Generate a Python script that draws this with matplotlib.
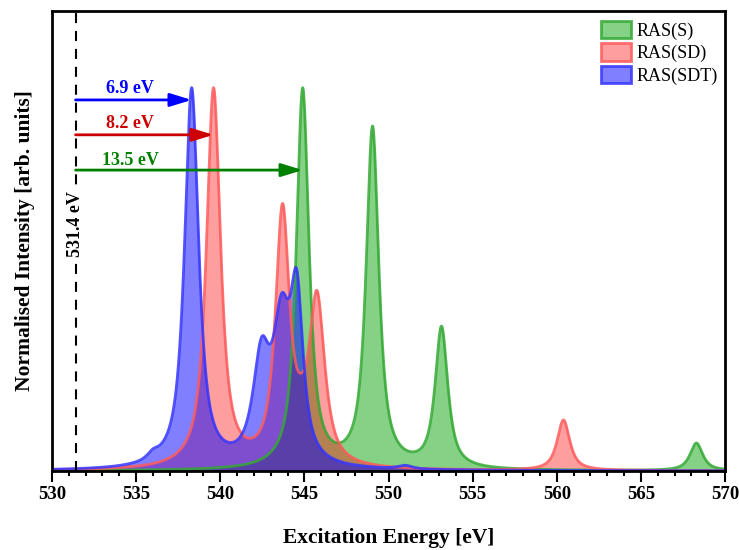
import numpy as np
import matplotlib
matplotlib.use("Agg")
import matplotlib.pyplot as plt
from matplotlib.patches import Patch
from matplotlib.ticker import MultipleLocator

plt.rcParams['font.family'] = ['Liberation Serif', 'DejaVu Serif']

# band positions (eV), normalised curve heights there and FWHM of each band
ras_s_energy = [544.9, 549.05, 553.15, 568.3]
ras_s_height = [1.0, 0.90, 0.378, 0.073]
ras_s_fwhm = [0.9, 0.9, 0.9, 0.9]

ras_sd_energy = [539.6, 543.7, 544.8, 545.75, 560.4]
ras_sd_height = [1.0, 0.698, 0.255, 0.471, 0.133]
ras_sd_fwhm = [1.0, 1.0, 1.0, 1.1, 0.9]

ras_sdt_energy = [536.0, 538.3, 542.45, 543.65, 544.55, 551.0]
ras_sdt_height = [0.058, 1.0, 0.349, 0.464, 0.526, 0.015]
ras_sdt_fwhm = [0.8, 1.0, 1.2, 1.2, 0.9, 1.0]

edge_energy = 531.4
shift_labels = ['6.9 eV', '8.2 eV', '13.5 eV']
shift_targets = [538.3, 539.6, 544.9]

ETA = 0.85  # Lorentzian fraction of the pseudo-Voigt line shape


def pvoigt(grid, e0, fwhm):
    g = fwhm / 2
    s = fwhm / 2.3548
    lor = g ** 2 / ((grid - e0) ** 2 + g ** 2)
    gau = np.exp(-(grid - e0) ** 2 / (2 * s ** 2))
    return ETA * lor + (1 - ETA) * gau


def spectrum(energies, heights, fwhm, grid):
    # amplitudes chosen so the summed bands pass through the given heights
    e = np.asarray(energies)
    m = np.array([[pvoigt(ei, ej, wj) for ej, wj in zip(e, fwhm)] for ei in e])
    amp = np.linalg.solve(m, np.asarray(heights))
    spec = sum(a * pvoigt(grid, ej, wj) for a, ej, wj in zip(amp, e, fwhm))
    return spec / spec.max()


grid = np.linspace(530, 570, 4001)
series = [
    ('RAS(S)', ras_s_energy, ras_s_height, ras_s_fwhm, '#00a000', 0.48, '#33a833'),
    ('RAS(SD)', ras_sd_energy, ras_sd_height, ras_sd_fwhm, '#ff0000', 0.38, '#ff5a5a'),
    ('RAS(SDT)', ras_sdt_energy, ras_sdt_height, ras_sdt_fwhm, '#0000ff', 0.5, '#3535ff'),
]

fig = plt.figure(figsize=(7.39, 5.5), dpi=100)
ax = fig.add_axes([52 / 739, 1 - 471 / 550, 673 / 739, 460 / 550])

handles = []
for name, en, hts, w, fc, alpha, lc in series:
    y = spectrum(en, hts, w, grid)
    ax.fill_between(grid, 0, y, color=fc, alpha=alpha, lw=0)
    ax.plot(grid, y, color=lc, lw=2, alpha=0.85)
    handles.append(Patch(facecolor=matplotlib.colors.to_rgba(fc, alpha),
                         edgecolor=matplotlib.colors.to_rgba(lc, 0.85), lw=2, label=name))

ax.axvline(edge_energy, color='k', lw=1.5, ls=(0, (4.8, 3.8)))
ax.text(edge_energy, 0.644, '531.4 eV', rotation=90, ha='center', va='center',
        fontsize=13, fontweight='bold',
        bbox=dict(facecolor='white', edgecolor='none', pad=1))

arrow_colors = ['#0000ff', '#cc0000', '#008000']
arrow_y = [0.968, 0.877, 0.785]
text_y = [0.998, 0.907, 0.811]
for lab, tgt, col, ya, yt in zip(shift_labels, shift_targets, arrow_colors, arrow_y, text_y):
    ax.annotate('', xy=(tgt, ya), xytext=(edge_energy, ya),
                arrowprops=dict(arrowstyle='-|>,head_length=0.65,head_width=0.2',
                                color=col, lw=2, mutation_scale=20,
                                shrinkA=0, shrinkB=0))
    ax.text(534.65, yt, lab, color=col, fontsize=13, fontweight='bold',
            ha='center', va='center')

ax.set_xlim(530, 570)
ax.set_ylim(0, 1.2)
ax.set_yticks([])
ax.xaxis.set_major_locator(MultipleLocator(5))
ax.xaxis.set_minor_locator(MultipleLocator(1))
ax.tick_params(axis='x', which='major', length=8, width=1.5, labelsize=13.5, pad=3)
ax.tick_params(axis='x', which='minor', length=3.5, width=1.5)
for lbl in ax.get_xticklabels():
    lbl.set_fontweight('bold')
for sp in ax.spines.values():
    sp.set_linewidth(2)

ax.set_xlabel('Excitation Energy [eV]', fontsize=15.5, fontweight='bold', labelpad=18)
ax.set_ylabel('Normalised Intensity [arb. units]', fontsize=15.5, fontweight='bold', labelpad=12)

ax.legend(handles=handles, loc='upper right', bbox_to_anchor=(1.0045, 1.0),
          frameon=False, fontsize=13,
          handlelength=1.67, handleheight=1.1, handletextpad=0.3,
          labelspacing=0.2, borderaxespad=0.35, borderpad=0.2)

fig.savefig('out.png', dpi=100)
